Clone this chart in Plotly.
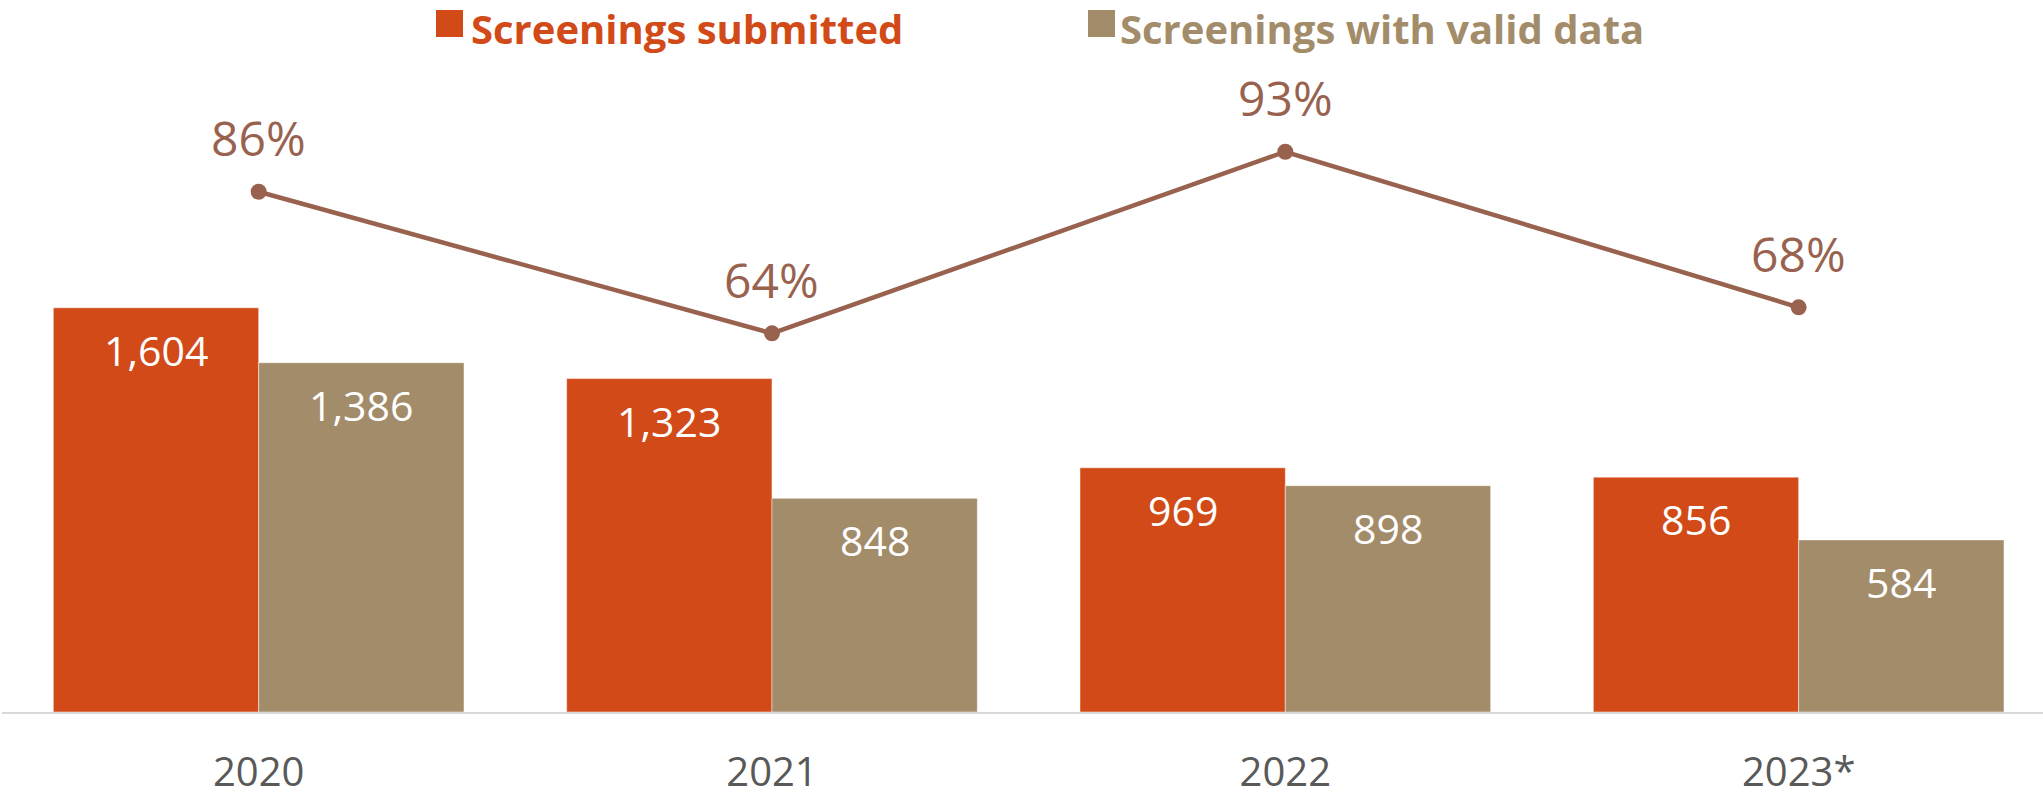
import plotly.graph_objects as go

# ---- data ----
years = ["2020", "2021", "2022", "2023*"]
submitted_labels = [1604, 1323, 969, 856]
valid_labels = [1386, 848, 898, 584]
# bar heights as drawn in the reference (2023* bars are drawn taller than their labels)
submitted_heights = [1604, 1323, 969, 932]
valid_heights = [1386, 848, 898, 683]
valid_pct = [86.4, 64.1, 92.7, 68.2]

series_names = ["Screenings submitted", "Screenings with valid data"]

# ---- styles ----
C_SUB = "#D14A18"
C_VAL = "#A38C6A"
C_LINE = "#98624F"
FONT = "Open Sans"

fig = go.Figure()

fig.add_trace(go.Bar(
    x=years, y=submitted_heights, name=series_names[0],
    marker=dict(color=C_SUB, line=dict(color="rgba(255,255,255,0.6)", width=0.8)),
    hoverinfo="skip", showlegend=False,
))
fig.add_trace(go.Bar(
    x=years, y=valid_heights, name=series_names[1],
    marker=dict(color=C_VAL, line=dict(color="rgba(255,255,255,0.6)", width=0.8)),
    hoverinfo="skip", showlegend=False,
))
fig.add_trace(go.Scatter(
    x=years, y=valid_pct, yaxis="y2", mode="lines+markers",
    line=dict(color=C_LINE, width=4.5),
    marker=dict(color=C_LINE, size=16),
    hoverinfo="skip", showlegend=False,
))

annotations = []
half = 102.8
for i, yr in enumerate(years):
    annotations.append(dict(
        x=i, y=submitted_heights[i], xref="x", yref="y",
        xshift=-half, yshift=-42, showarrow=False,
        text=f"{submitted_labels[i]:,}", yanchor="middle",
        font=dict(family=FONT, size=41, color="white"),
    ))
    annotations.append(dict(
        x=i, y=valid_heights[i], xref="x", yref="y",
        xshift=half, yshift=-42, showarrow=False,
        text=f"{valid_labels[i]:,}", yanchor="middle",
        font=dict(family=FONT, size=41, color="white"),
    ))
    annotations.append(dict(
        x=i, y=valid_pct[i], xref="x", yref="y2",
        yshift=54, showarrow=False,
        text=f"{round(valid_pct[i])}%", yanchor="middle",
        font=dict(family=FONT, size=48, color=C_LINE),
    ))

# custom legend (text in paper coords)
W, H = 2043, 796
ml, mr, mt, mb = 2, 0, 0, 84
pw, ph = W - ml - mr, H - mt - mb

def px_x(px):
    return (px - ml) / pw

def px_y(py):
    return 1 - (py - mt) / ph

legend_items = [
    (series_names[0], C_SUB, 436, 470),
    (series_names[1], C_VAL, 1088, 1119),
]
shapes = []
for name, col, sq_x, tx in legend_items:
    shapes.append(dict(
        type="rect", xref="paper", yref="paper",
        x0=px_x(sq_x), x1=px_x(sq_x + 27), y0=px_y(37), y1=px_y(10),
        fillcolor=col, line=dict(width=0),
    ))
    annotations.append(dict(
        x=px_x(tx), y=px_y(0), xref="paper", yref="paper",
        xanchor="left", yanchor="top", showarrow=False, borderpad=0,
        text=f"<b>{name}</b>",
        font=dict(family=FONT, size=40, color=col),
    ))

fig.update_layout(
    width=W, height=H,
    margin=dict(l=ml, r=mr, t=mt, b=mb, pad=0, autoexpand=False),
    paper_bgcolor="white", plot_bgcolor="white",
    barmode="group", bargap=0.2, bargroupgap=0,
    showlegend=False,
    xaxis=dict(
        type="category", range=[-0.5, 3.476], automargin=False,
        showline=True, linecolor="#D9D9D9", linewidth=2,
        showgrid=False, zeroline=False, ticks="",
        tickfont=dict(family=FONT, size=40, color="#595959"),
        ticklabelstandoff=24,
    ),
    yaxis=dict(
        range=[0, 712 / 0.252], visible=False, showgrid=False, zeroline=False,
        automargin=False,
    ),
    yaxis2=dict(
        range=[4.46, 116.6], overlaying="y", visible=False,
        showgrid=False, zeroline=False, automargin=False,
    ),
    annotations=annotations,
    shapes=shapes,
)

fig.write_html(
    "out.html",
    config={"displayModeBar": False},
    post_script="document.body.style.margin='0';document.body.style.overflow='hidden';",
)
